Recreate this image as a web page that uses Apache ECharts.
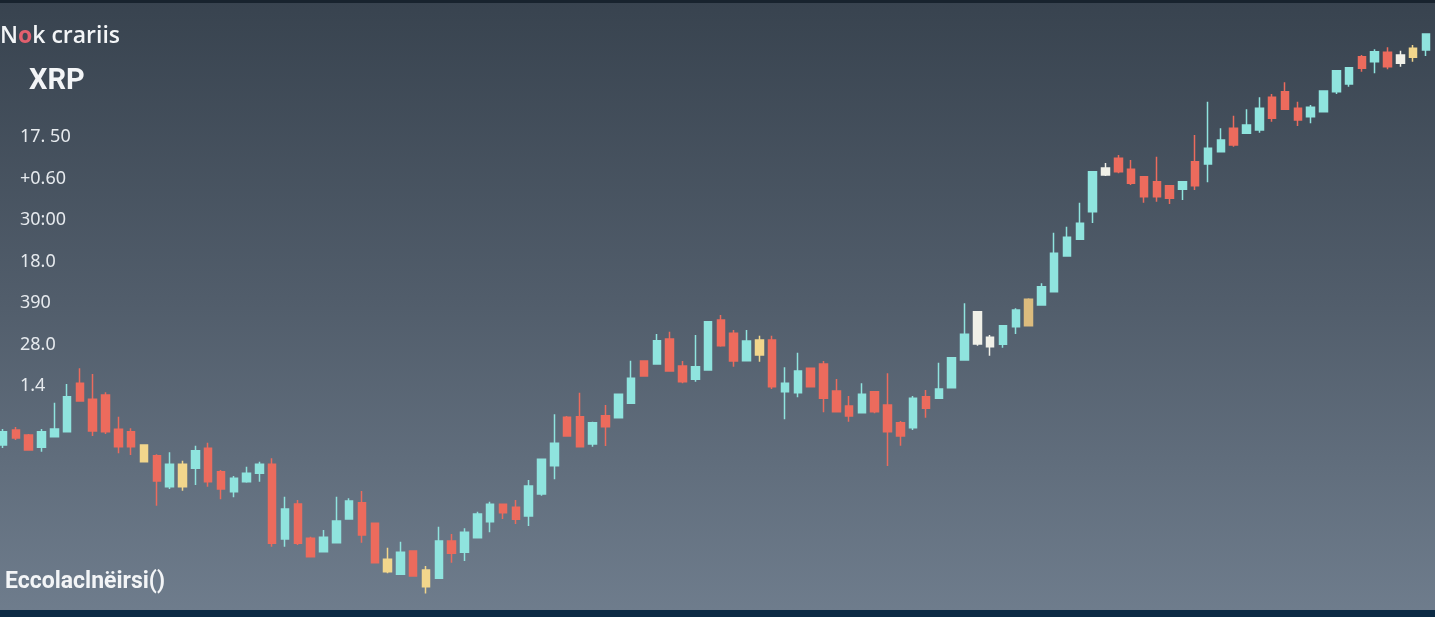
<!DOCTYPE html>
<html><head><meta charset="utf-8">
<script src="https://cdn.jsdelivr.net/npm/echarts/dist/echarts.min.js"></script>
<style>html,body{margin:0;padding:0;background:#3a4552;overflow:hidden}#c{width:1435px;height:617px}</style>
</head><body><div id="c"></div><script>
// ---- data ----
const tickLabels = ['1.4', '28.0', '390', '18.0', '30:00', '+0.60', '17. 50'];
const opens = [14.85,16.35,15.85,14.62,15.68,16.18,21.02,19.42,19.85,16.42,
16.18,14.85,13.78,10.68,12.92,12.52,14.52,12.18,10.18,11.18,
12.02,12.92,5.45,8.95,5.52,4.18,5.08,7.45,9.08,7.02,
3.42,1.92,4.25,2.35,1.52,5.25,4.12,5.58,7.18,8.92,
8.62,7.75,9.95,12.78,17.62,17.68,14.95,17.78,17.58,19.02,
23.25,22.95,25.45,22.75,21.42,22.35,27.35,26.02,23.28,23.85,
25.35,20.18,20.08,22.52,22.95,20.25,18.75,18.08,20.18,18.85,
17.08,16.58,19.68,19.52,20.58,23.35,24.95,24.68,24.92,26.68,
26.78,28.85,30.18,33.75,35.42,38.18,41.85,43.52,42.42,41.68,
41.18,40.78,40.42,43.18,42.95,44.18,46.52,46.02,46.35,49.62,
50.18,48.52,47.68,48.18,50.18,50.95,53.68,53.18,54.12,53.02,
53.62,54.35];
const closes = [16.18,15.55,14.35,16.18,16.45,19.68,19.25,16.25,16.18,14.68,
14.68,13.18,11.25,12.92,10.68,14.28,11.18,10.45,11.52,12.02,
12.92,5.02,8.45,5.02,3.68,5.62,7.25,9.25,5.85,3.08,
2.18,4.12,1.75,0.68,5.25,4.02,6.12,7.95,8.92,8.08,
7.42,10.75,13.42,15.02,15.75,14.68,17.08,16.68,19.92,21.52,
21.75,25.28,22.25,21.18,22.68,27.18,24.78,23.25,25.25,25.35,
20.68,21.02,22.25,20.68,19.52,18.18,17.75,19.92,18.18,16.18,
15.75,19.52,18.52,20.45,23.58,25.92,28.18,25.62,26.78,28.35,
29.42,30.68,34.02,35.62,37.02,42.18,42.55,42.18,41.02,39.68,
39.68,39.52,41.18,40.78,44.52,45.35,44.85,46.85,48.52,47.52,
48.42,47.35,48.62,50.25,52.28,52.58,52.52,54.18,52.68,53.85,
54.52,55.95];
const lows = [14.55,15.35,14.28,14.18,15.62,16.18,19.18,15.75,15.95,14.02,
13.85,13.18,8.78,10.45,10.28,10.85,10.68,9.42,9.62,11.08,
11.18,4.68,4.68,4.85,3.68,4.18,5.08,7.45,5.08,3.02,
2.02,1.85,1.68,0,1.52,3.08,3.25,5.58,6.12,7.45,
6.95,6.75,9.78,11.42,15.68,14.68,14.68,14.75,17.58,19.02,
21.75,22.95,22.18,21.02,21.18,22.35,24.68,22.68,23.28,23.18,
20.45,17.42,19.62,20.68,18.12,18.18,17.18,18.08,18.02,12.75,
14.78,16.35,17.58,19.52,20.58,23.35,24.78,23.78,24.58,25.95,
26.78,28.85,30.18,33.75,35.42,37.05,41.75,42.02,40.85,39.08,
39.18,38.95,39.35,40.35,41.12,44.18,44.68,46.02,46.08,47.18,
48.42,46.75,47.02,48.18,49.95,50.68,52.18,52.02,52.42,52.68,
53.18,53.75];
const highs = [16.45,16.65,15.95,16.45,19.08,20.95,22.52,21.95,20.12,17.68,
16.52,14.85,13.92,14.12,13.28,14.78,15.08,12.35,11.75,12.68,
13.18,13.52,9.68,9.35,5.68,6.35,9.68,9.52,10.25,7.08,
4.58,5.18,4.28,2.75,6.68,5.95,6.52,8.18,9.18,8.92,
9.35,11.35,13.42,17.92,17.75,20.08,17.18,18.85,19.92,23.28,
23.25,25.95,26.18,23.25,25.85,27.18,27.85,26.35,26.35,25.78,
25.78,22.62,24.08,22.52,23.25,21.45,19.75,21.02,20.18,22.02,
17.25,19.75,20.35,23.08,23.58,29.02,28.18,25.85,26.78,28.52,
29.52,31.02,36.08,36.68,39.08,42.18,43.05,43.85,43.35,41.68,
43.68,40.78,41.18,45.85,49.18,46.52,47.78,48.42,49.62,49.95,
51.12,49.18,48.85,50.25,52.28,52.58,53.85,54.42,54.62,54.28,
54.85,55.95];
// candles drawn in a neutral tone in the picture
const yellowIdx = [11, 14, 30, 33, 59, 110];
const whiteIdx = [76, 77, 86, 109];
const goldIdx = [80];

const categories = opens.map((_, i) => 'P' + (i + 1));

// ---- build ----
const UP = '#8fe4de', DOWN = '#ec6b5d';
const tone = i => yellowIdx.includes(i) ? '#f2d68c' : whiteIdx.includes(i) ? '#f0f0e8' : goldIdx.includes(i) ? '#dcbc7e' : null;
const seriesData = opens.map((o, i) => {
  const item = { value: [o, closes[i], lows[i], highs[i]] };
  const t = tone(i);
  if (t) item.itemStyle = { color: t, color0: t, borderColor: t, borderColor0: t };
  return item;
});

const chart = echarts.init(document.getElementById('c'), null, { renderer: 'canvas' });
chart.setOption({
  animation: false,
  backgroundColor: {
    type: 'linear', x: 0, y: 0, x2: 0, y2: 1,
    colorStops: [
      { offset: 0, color: '#38434f' },
      { offset: 0.5, color: '#525e6c' },
      { offset: 1, color: '#6f7d8d' }
    ]
  },
  title: [
    { text: '{a|N}{b|o}{a|k crariis}', left: 0, top: 25, padding: 0,
      textStyle: { rich: {
        a: { color: '#f3f5f7', fontSize: 23, fontFamily: 'Open Sans', fontWeight: 600 },
        b: { color: '#e2606e', fontSize: 23, fontFamily: 'Open Sans', fontWeight: 'bold' } } } },
    { text: 'XRP', left: 29, top: 67, padding: 0,
      textStyle: { color: '#f3f5f7', fontSize: 29, fontWeight: 'bold', fontFamily: 'Roboto' } },
    { text: 'Eccolaclnëirsi()', left: 5, top: 571, padding: 0,
      textStyle: { color: '#f3f5f7', fontSize: 23, fontWeight: 'bold', fontFamily: 'Roboto' } }
  ],
  graphic: [
    { type: 'rect', shape: { x: 0, y: 0, width: 1435, height: 3 }, style: { fill: '#18232e' }, silent: true },
    { type: 'rect', shape: { x: 0, y: 610, width: 1435, height: 7 }, style: { fill: '#0c2a44' }, silent: true }
  ],
  grid: { left: 3, right: 9, top: 12.5, bottom: 23.5 },
  xAxis: {
    type: 'category', data: categories, boundaryGap: false,
    axisLine: { show: false }, axisTick: { show: false }, axisLabel: { show: false }, splitLine: { show: false }
  },
  yAxis: {
    type: 'value', min: 0, max: 58.1, interval: 4.15,
    axisLine: { show: false }, axisTick: { show: false }, splitLine: { show: false },
    axisLabel: {
      inside: true, margin: 17, color: '#e6eaee', fontSize: 18, fontFamily: 'Noto Sans',
      formatter: v => { const k = Math.round(v / 4.15) - 5; return (k >= 0 && k < tickLabels.length) ? tickLabels[k] : ''; }
    }
  },
  series: [{
    type: 'candlestick', data: seriesData, barWidth: 8, clip: false,
    itemStyle: { color: UP, color0: DOWN, borderColor: UP, borderColor0: DOWN, borderWidth: 1.5 }
  }]
});
</script></body></html>
